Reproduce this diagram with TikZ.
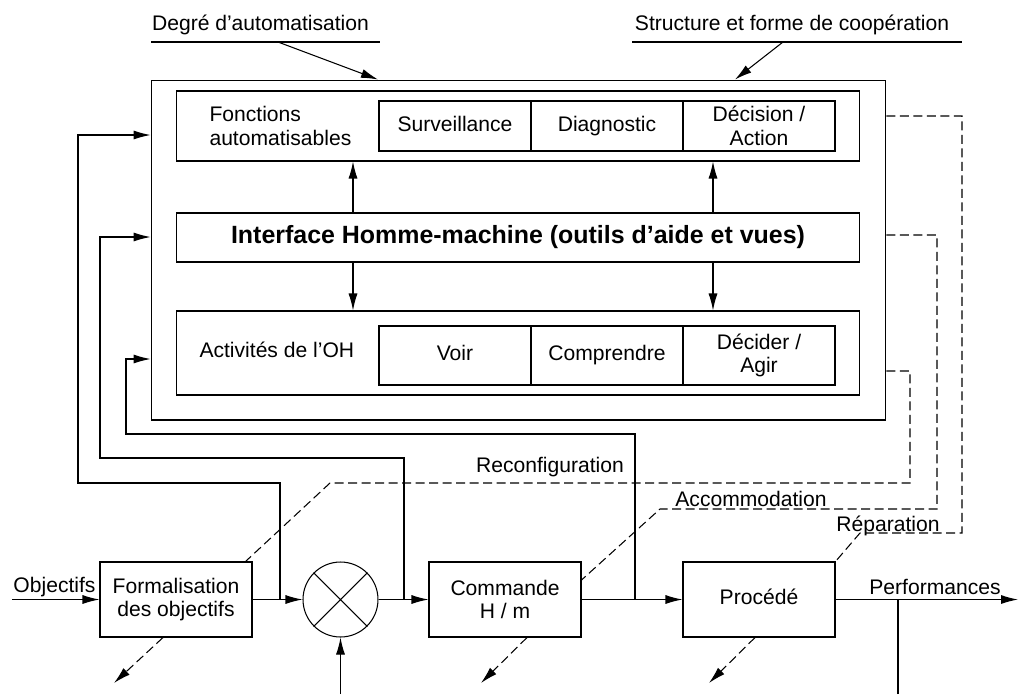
\documentclass[tikz,border=0pt]{standalone}
\usepackage{fontspec}
\setmainfont{Liberation Sans}
\usetikzlibrary{arrows.meta}

\begin{document}
\begin{tikzpicture}[x=0.02cm, y=-0.02cm, line width=0.6pt,
    >={Latex[length=3.4mm,width=1.8mm]},
    every node/.style={font=\fontsize{12}{13.5}\selectfont, inner sep=0pt},
    bigbox/.style={draw, minimum width=13.68cm},
    cell/.style={draw, minimum width=3.04cm, align=center},
    oneline/.style={text height=8.6pt, text depth=2.6pt},
    blk/.style={draw, minimum width=3.04cm, minimum height=1.5cm, align=center},
    fb/.style={dash pattern=on 1.8mm off 0.9mm}]
  \useasboundingbox (0,0) rectangle (1018,694);

  % cadre superieur
  \node[draw, minimum width=14.7cm, minimum height=6.8cm] (outer) at (518.5,250) {};
  \node[bigbox, minimum height=1.4cm] (fonct) at (518,126) {};
  \node[anchor=west, align=left] (fonctlbl) at (209,126) {Fonctions\\automatisables};
  \node[cell, oneline, minimum height=1cm] (surv) at (455,126) {Surveillance};
  \node[cell, oneline, minimum height=1cm] (diag) at (607,126) {Diagnostic};
  \node[cell, minimum height=1cm] (dec) at (759,126) {Décision /\\Action};
  \node[bigbox, minimum height=0.98cm, font=\fontsize{14.2}{16}\selectfont\bfseries] (ihm) at (518,237.5)
    {Interface Homme-machine (outils d’aide et vues)};
  \node[bigbox, minimum height=1.68cm] (act) at (518,353) {};
  \node[anchor=west, oneline] (actlbl) at (199,352) {Activités de l’OH};
  \node[cell, oneline, minimum height=1.18cm] (voir) at (455,355.5) {Voir};
  \node[cell, oneline, minimum height=1.18cm] (comp) at (607,355.5) {Comprendre};
  \node[cell, minimum height=1.18cm] (agir) at (759,355.5) {Décider /\\Agir};

  \draw[->] (ihm.north -| 353,0) -- (fonct.south -| 353,0);
  \draw[->] (ihm.north -| 713,0) -- (fonct.south -| 713,0);
  \draw[->] (ihm.south -| 353,0) -- (act.north -| 353,0);
  \draw[->] (ihm.south -| 713,0) -- (act.north -| 713,0);

  % entrees du cadre
  \node[anchor=base] (deg) at (260.5,30.5) {Degré d’automatisation};
  \coordinate (degL) at (151,42);
  \coordinate (degR) at (380,42);
  \coordinate (degA) at (278,42);
  \draw (degL) -- (degR);
  \draw[->] (degA) -- (outer.north -| 378,0);
  \node[anchor=base] (coop) at (792,30.5) {Structure et forme de coopération};
  \coordinate (coopL) at (632,42);
  \coordinate (coopR) at (962,42);
  \coordinate (coopA) at (783,42);
  \draw (coopL) -- (coopR);
  \draw[->] (coopA) -- (outer.north -| 735,0);

  % boucle
  \node[blk] (form) at (176,599.5) {Formalisation\\des objectifs};
  \node[draw, circle, minimum size=1.5cm] (mult) at (340.5,599.5) {};
  \draw (mult.north west) -- (mult.south east) (mult.north east) -- (mult.south west);
  \node[blk] (cmd) at (505,599.5) {Commande\\H / m};
  \node[blk, oneline] (proc) at (759,599.5) {Procédé};

  \coordinate (obj) at (12,599.5);
  \coordinate (perf) at (1018,599.5);
  \coordinate (cons) at (340.5,694);
  \coordinate (mes) at (898,694);
  \node[anchor=base] (objlbl) at (54.5,592.5) {Objectifs};
  \node[anchor=base] (perflbl) at (935,594) {Performances};
  \draw[->] (obj) -- (form);
  \draw[->] (form) -- (mult);
  \draw[->] (mult) -- (cmd);
  \draw[->] (cmd) -- (proc);
  \draw[->] (proc) -- (perf);
  \draw[->] (cons) -- (mult);
  \draw (mes) -- (mes |- proc.east);

  % retours vers le cadre
  \coordinate (j1) at (280,599.5);
  \coordinate (j2) at (404,599.5);
  \coordinate (j3) at (635,599.5);
  \draw[->] (j1) |- (78,483) |- (outer.west |- 0,135);
  \draw[->] (j2) |- (100,458) |- (outer.west |- 0,237);
  \draw[->] (j3) |- (126,434) |- (outer.west |- 0,359);

  % actions correctives
  \node[anchor=base] (reconf) at (550,472) {Reconfiguration};
  \node[anchor=base] (accom) at (751,506) {Accommodation};
  \node[anchor=base] (repar) at (888,531) {Réparation};
  \draw[fb] (outer.east |- 0,116) -| (962,533) -- (860,533) -- (proc.north east);
  \draw[fb] (outer.east |- 0,235) -| (937,509) -- (660,509) -- (cmd.east |- 0,580);
  \draw[fb] (outer.east |- 0,371) -| (910,483) -- (330,483) -- ([xshift=-0.14cm]form.north east);

  \coordinate (pf) at (114,683);
  \coordinate (pc) at (481,683);
  \coordinate (pp) at (709,683);
  \draw[fb,->] (form.south -| 163,0) -- (pf);
  \draw[fb,->] (cmd.south -| 527,0) -- (pc);
  \draw[fb,->] (proc.south -| 755,0) -- (pp);
\end{tikzpicture}
\end{document}
